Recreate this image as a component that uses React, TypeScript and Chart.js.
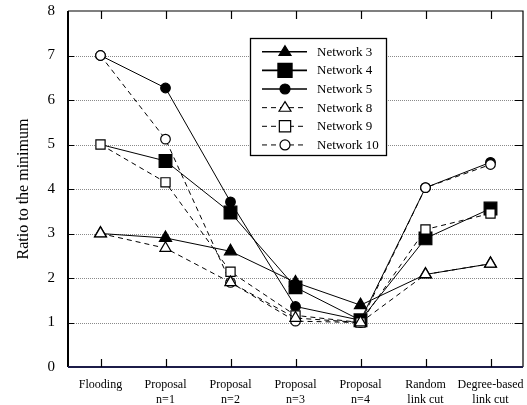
import React, { useEffect, useRef } from "react";
import { Chart, registerables } from "chart.js";

Chart.register(...registerables);

const categories: string[][] = [
  ["Flooding"],
  ["Proposal", "n=1"],
  ["Proposal", "n=2"],
  ["Proposal", "n=3"],
  ["Proposal", "n=4"],
  ["Random", "link cut"],
  ["Degree-based", "link cut"],
];

const network3 = [3.0, 2.9, 2.6, 1.9, 1.39, 2.08, 2.32];
const network4 = [5.0, 4.63, 3.47, 1.79, 1.05, 2.89, 3.56];
const network5 = [7.0, 6.27, 3.71, 1.36, 1.05, 4.03, 4.6];
const network8 = [3.0, 2.67, 1.9, 1.1, 1.0, 2.08, 2.32];
const network9 = [5.0, 4.15, 2.14, 1.16, 1.0, 3.09, 3.45];
const network10 = [7.0, 5.12, 1.9, 1.03, 1.0, 4.03, 4.55];

const yTicks = [0, 1, 2, 3, 4, 5, 6, 7, 8];

const FONT = "'Liberation Serif', 'Times New Roman', serif";

function drawMarker(ctx: CanvasRenderingContext2D, style: string, r: number, x: number, y: number, fill: string) {
  ctx.save();
  ctx.beginPath();
  if (style === "triangle") {
    ctx.moveTo(x, y - r);
    ctx.lineTo(x + r * 0.866 * 1.15, y + r * 0.6);
    ctx.lineTo(x - r * 0.866 * 1.15, y + r * 0.6);
    ctx.closePath();
  } else if (style === "rect") {
    const s = r * Math.SQRT1_2;
    ctx.rect(x - s, y - s, 2 * s, 2 * s);
  } else {
    ctx.arc(x, y, r, 0, Math.PI * 2);
  }
  ctx.fillStyle = fill;
  ctx.fill();
  ctx.strokeStyle = "#000";
  ctx.lineWidth = 1.2;
  ctx.setLineDash([]);
  ctx.stroke();
  ctx.restore();
}

const framePlugin = {
  id: "framePlugin",
  beforeDatasetsDraw(chart: any) {
    const { ctx, chartArea } = chart;
    const y = chart.scales.y;
    ctx.save();
    ctx.strokeStyle = "#8a8a8a";
    ctx.lineWidth = 1;
    ctx.setLineDash([1, 1]);
    for (const v of yTicks) {
      if (v === 0 || v === 8) continue;
      const py = Math.round(y.getPixelForValue(v)) + 0.5;
      ctx.beginPath();
      ctx.moveTo(chartArea.left, py);
      ctx.lineTo(chartArea.right, py);
      ctx.stroke();
    }
    ctx.restore();
  },
  afterDatasetsDraw(chart: any) {
    const { ctx, chartArea } = chart;
    const x = chart.scales.x;
    const y = chart.scales.y;
    ctx.save();
    ctx.setLineDash([]);
    // frame
    ctx.strokeStyle = "#000";
    ctx.lineWidth = 1.2;
    ctx.beginPath();
    ctx.moveTo(chartArea.left, chartArea.top);
    ctx.lineTo(chartArea.right, chartArea.top);
    ctx.lineTo(chartArea.right, chartArea.bottom);
    ctx.stroke();
    ctx.lineWidth = 2;
    ctx.beginPath();
    ctx.moveTo(chartArea.left, chartArea.top);
    ctx.lineTo(chartArea.left, chartArea.bottom);
    ctx.stroke();
    ctx.strokeStyle = "#1c1c48";
    ctx.beginPath();
    ctx.moveTo(chartArea.left, chartArea.bottom);
    ctx.lineTo(chartArea.right, chartArea.bottom);
    ctx.stroke();
    // inward ticks
    ctx.strokeStyle = "#000";
    ctx.lineWidth = 1.2;
    for (let i = 0; i < categories.length; i++) {
      const px = Math.round(x.getPixelForValue(i)) + 0.5;
      ctx.beginPath();
      ctx.moveTo(px, chartArea.top);
      ctx.lineTo(px, chartArea.top + 8);
      ctx.moveTo(px, chartArea.bottom);
      ctx.lineTo(px, chartArea.bottom - 8);
      ctx.stroke();
    }
    for (const v of yTicks) {
      if (v === 0 || v === 8) continue;
      const py = Math.round(y.getPixelForValue(v)) + 0.5;
      ctx.beginPath();
      ctx.moveTo(chartArea.right, py);
      ctx.lineTo(chartArea.right - 8, py);
      ctx.moveTo(chartArea.left, py);
      ctx.lineTo(chartArea.left + 6, py);
      ctx.stroke();
    }
    // legend
    const bx = 250.5, by = 38.5, bw = 136, bh = 117;
    ctx.fillStyle = "#fff";
    ctx.fillRect(bx, by, bw, bh);
    ctx.strokeStyle = "#000";
    ctx.lineWidth = 1.3;
    ctx.strokeRect(bx, by, bw, bh);
    const rowY0 = 51.7;
    const rowStep = 18.65;
    chart.data.datasets.forEach((ds: any, i: number) => {
      const ry = rowY0 + i * rowStep;
      ctx.save();
      ctx.strokeStyle = "#000";
      ctx.lineWidth = ds.borderDash && ds.borderDash.length ? 1 : 1.6;
      ctx.setLineDash(ds.borderDash || []);
      ctx.beginPath();
      ctx.moveTo(262, ry);
      ctx.lineTo(307, ry);
      ctx.stroke();
      ctx.restore();
      drawMarker(ctx, ds.pointStyle, ds.legendRadius, 285, ry, ds.pointBackgroundColor);
      ctx.fillStyle = "#000";
      ctx.font = `13px ${FONT}`;
      ctx.textAlign = "left";
      ctx.textBaseline = "middle";
      ctx.fillText(ds.label, 317, ry + 0.5);
    });
    ctx.restore();
  },
};

export default function App() {
  const canvasRef = useRef<HTMLCanvasElement | null>(null);

  useEffect(() => {
    if (!canvasRef.current) return;
    const mk = (label: string, data: number[], dashed: boolean, style: string, filled: boolean, r: number | number[], lr: number) => ({
      label,
      data,
      borderColor: "#000",
      borderWidth: 1,
      borderDash: dashed ? [5, 4] : [],
      pointStyle: style,
      pointRadius: r,
      pointHoverRadius: r,
      pointBackgroundColor: filled ? "#000" : "#fff",
      pointBorderColor: "#000",
      pointBorderWidth: 1.2,
      legendRadius: lr,
      fill: false,
      tension: 0,
      order: dashed ? 0 : 1,
    });
    const chart = new Chart(canvasRef.current, {
      type: "line",
      data: {
        labels: categories,
        datasets: [
          mk("Network 3", network3, false, "triangle", true, 7, 6),
          mk("Network 4", network4, false, "rect", true, [0, 9, 9, 9, 9, 9, 9], 10),
          mk("Network 5", network5, false, "circle", true, 4.8, 5),
          mk("Network 8", network8, true, "triangle", false, 6.5, 6),
          mk("Network 9", network9, true, "rect", false, 6.5, 8),
          mk("Network 10", network10, true, "circle", false, 4.8, 5),
        ] as any,
      },
      options: {
        animation: false,
        responsive: true,
        maintainAspectRatio: false,
        layout: { autoPadding: false, padding: { top: 11, right: 4, left: 0, bottom: 0 } },
        plugins: {
          legend: { display: false },
          tooltip: { enabled: false },
        },
        scales: {
          x: {
            type: "category",
            offset: true,
            grid: { display: false, drawTicks: false },
            border: { display: false },
            ticks: {
              color: "#000",
              font: { family: FONT, size: 12 },
              padding: 11,
              maxRotation: 0,
              autoSkip: false,
            },
            afterFit: (axis: any) => {
              axis.height = 38;
              axis.paddingLeft = 0;
              axis.paddingRight = 0;
            },
          },
          y: {
            min: 0,
            max: 8,
            grid: { display: false, drawTicks: false },
            border: { display: false },
            ticks: {
              stepSize: 1,
              color: "#000",
              font: { family: FONT, size: 15 },
              padding: 13,
            },
            title: {
              display: true,
              text: "Ratio to the minimum",
              color: "#000",
              font: { family: FONT, size: 16 },
              padding: { top: 14, bottom: 0 },
            },
            afterFit: (axis: any) => {
              axis.width = 68;
              axis.paddingTop = 0;
              axis.paddingBottom = 0;
            },
          },
        },
      },
      plugins: [framePlugin],
    });
    return () => chart.destroy();
  }, []);

  return (
    <div style={{ position: "fixed", left: 0, top: 0, width: 527, height: 405, background: "#fff" }}>
      <canvas ref={canvasRef} style={{ display: "block", width: 527, height: 405 }} />
    </div>
  );
}
